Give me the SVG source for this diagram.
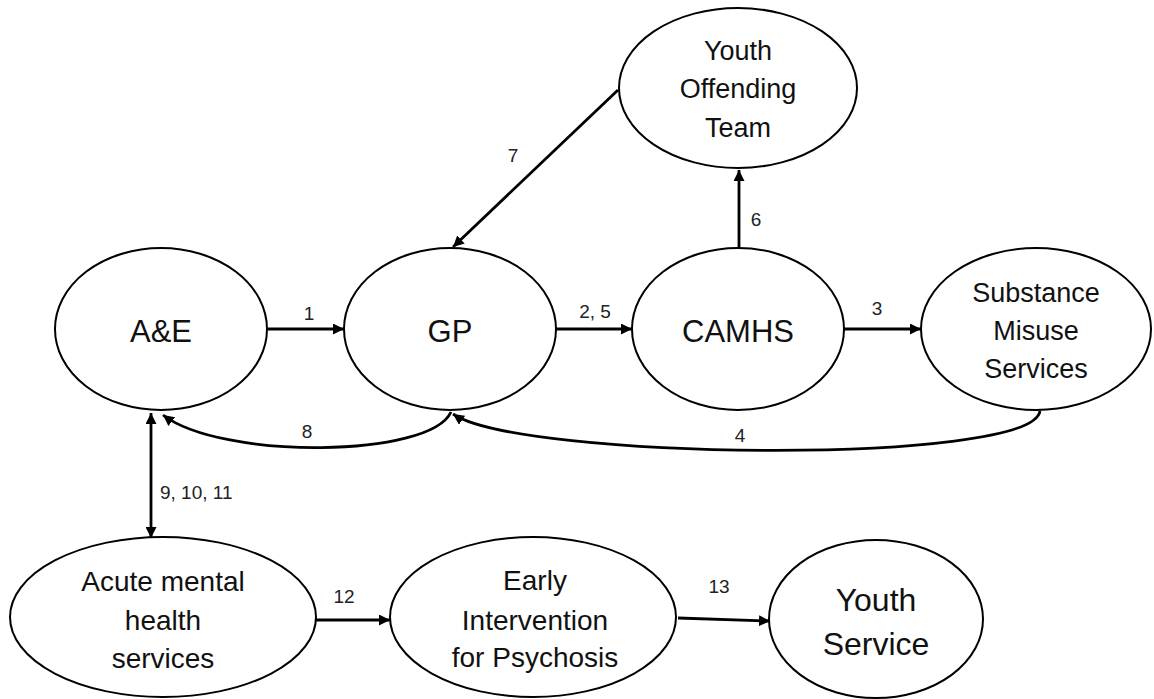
<svg xmlns="http://www.w3.org/2000/svg" width="1154" height="699" viewBox="0 0 1154 699">
  <defs>
    <marker id="arrow" viewBox="0 0 10 10" refX="10" refY="5" markerWidth="11" markerHeight="11" markerUnits="userSpaceOnUse" orient="auto-start-reverse">
      <path d="M0,0 L10,5 L0,10 z" fill="#000"/>
    </marker>
  </defs>
  <style>
    .node ellipse { fill: #fff; stroke: #000; stroke-width: 2; }
    .node text { font-family: "Liberation Sans", Arial, sans-serif; fill: #111; text-anchor: middle; }
    .conn { fill: none; stroke: #000; stroke-width: 2.8; marker-end: url(#arrow); }
    .lbl { font-family: "Liberation Sans", Arial, sans-serif; font-size: 19px; fill: #222; text-anchor: middle; }
  </style>
  <rect width="1154" height="699" fill="#fff"/>

  <g id="connectors">
    <line class="conn" x1="268" y1="329" x2="344" y2="329"/>
    <line class="conn" x1="555" y1="329" x2="632" y2="329"/>
    <line class="conn" x1="843" y1="329" x2="921" y2="329"/>
    <path class="conn" d="M1040,411 C1032,466 520,460 453,414"/>
    <line class="conn" x1="739" y1="248" x2="739" y2="170"/>
    <line class="conn" x1="618" y1="90" x2="453" y2="247"/>
    <path class="conn" d="M451,412 C430,458 222,460 163,415"/>
    <line class="conn" x1="151" y1="413" x2="151" y2="538" style="marker-start:url(#arrow)"/>
    <line class="conn" x1="316" y1="620" x2="390" y2="620"/>
    <line class="conn" x1="678" y1="618" x2="770" y2="621"/>

    <text class="lbl" x="309" y="320">1</text>
    <text class="lbl" x="595" y="318">2, 5</text>
    <text class="lbl" x="877" y="315">3</text>
    <text class="lbl" x="740" y="442">4</text>
    <text class="lbl" x="756" y="226">6</text>
    <text class="lbl" x="513" y="162">7</text>
    <text class="lbl" x="307" y="438">8</text>
    <text class="lbl" x="160" y="499" style="text-anchor:start">9, 10, 11</text>
    <text class="lbl" x="344" y="603">12</text>
    <text class="lbl" x="719" y="593">13</text>
  </g>

  <g id="node-ae" class="node">
    <ellipse cx="161" cy="329" rx="106" ry="81"/>
    <text x="161" y="342" font-size="31">A&amp;E</text>
  </g>
  <g id="node-gp" class="node">
    <ellipse cx="450" cy="329" rx="106" ry="81"/>
    <text x="450" y="342" font-size="31">GP</text>
  </g>
  <g id="node-camhs" class="node">
    <ellipse cx="738" cy="329" rx="106" ry="81"/>
    <text x="738" y="342" font-size="31">CAMHS</text>
  </g>
  <g id="node-sms" class="node">
    <ellipse cx="1036" cy="329" rx="115" ry="81"/>
    <text x="1036" y="302" font-size="27">Substance</text>
    <text x="1036" y="340" font-size="27">Misuse</text>
    <text x="1036" y="378" font-size="27">Services</text>
  </g>
  <g id="node-yot" class="node">
    <ellipse cx="738" cy="88" rx="119" ry="80"/>
    <text x="738" y="60" font-size="27">Youth</text>
    <text x="738" y="98" font-size="27">Offending</text>
    <text x="738" y="137" font-size="27">Team</text>
  </g>
  <g id="node-acute" class="node">
    <ellipse cx="163" cy="617" rx="153" ry="80"/>
    <text x="163" y="591" font-size="28">Acute mental</text>
    <text x="163" y="630" font-size="28">health</text>
    <text x="163" y="668" font-size="28">services</text>
  </g>
  <g id="node-eip" class="node">
    <ellipse cx="533" cy="617" rx="143" ry="80"/>
    <text x="535" y="590" font-size="28">Early</text>
    <text x="535" y="630" font-size="28">Intervention</text>
    <text x="535" y="667" font-size="28">for Psychosis</text>
  </g>
  <g id="node-ys" class="node">
    <ellipse cx="876" cy="619" rx="107" ry="79"/>
    <text x="876" y="611" font-size="32">Youth</text>
    <text x="876" y="655" font-size="32">Service</text>
  </g>
</svg>
